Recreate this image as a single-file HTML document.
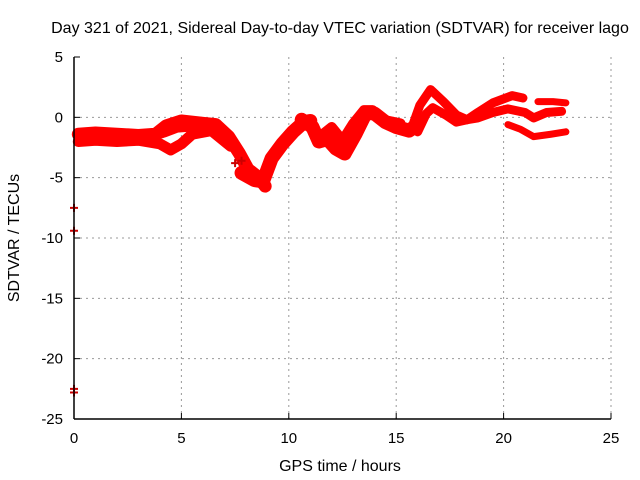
<!DOCTYPE html>
<html><head><meta charset="utf-8"><style>
html,body{margin:0;padding:0;background:#fff}
svg{display:block;font-family:"Liberation Sans",sans-serif}
</style></head><body>
<svg id="chart" width="640" height="480" viewBox="0 0 640 480">
<text x="340" y="33" font-size="16" text-anchor="middle">Day 321 of 2021, Sidereal Day-to-day VTEC variation (SDTVAR) for receiver lago</text>
<text x="340" y="471" font-size="16" text-anchor="middle">GPS time / hours</text>
<text transform="translate(19,238) rotate(-90)" font-size="16" text-anchor="middle">SDTVAR / TECUs</text>
<g id="grid"></g><g id="ticks"></g><g id="series"></g>
<line x1="74" y1="57" x2="74" y2="419" stroke="#000" stroke-width="1.5"/>
<line x1="74" y1="419" x2="611" y2="419" stroke="#000" stroke-width="1.5"/>
</svg>
<script>
const xTicks=[0,5,10,15,20,25];
const yTicks=[5,0,-5,-10,-15,-20,-25];
const trackA=[[0.2,-1.4],[1,-1.3],[2,-1.4],[3,-1.5],[3.8,-1.4],[4.3,-0.7],[5,-0.3],[6,-0.5],[6.6,-0.6],[7.2,-1.6],[7.7,-3],[8.1,-4.3],[8.6,-5],[8.9,-5.7]];
const trackB=[[0.2,-2],[1,-1.9],[2,-2],[3,-1.9],[4,-2.2],[4.5,-2.7],[5,-2.2],[5.5,-1.4],[6.4,-1.1],[7.3,-2.4]];
const trackC=[[3.5,-1.7],[4.2,-1.3],[4.8,-0.9],[5.5,-0.8],[6.2,-0.6],[6.9,-1.2]];
const trackD=[[7.8,-4.6],[8.4,-5.2],[8.8,-5.3],[9.2,-3.4],[9.7,-2.2],[10.2,-1.2],[10.7,-0.4],[11,-0.3]];
const trackE=[[10.6,-0.2],[11.1,-0.8],[11.4,-2],[11.8,-1.8],[12.2,-2.6],[12.6,-3],[13.1,-1.4],[13.6,0.4],[14,0.3],[14.5,-0.4],[15,-0.8],[15.6,-1.1],[16,-0.6]];
const trackF=[[11.5,-1.5],[12,-0.8],[12.5,-1.9],[13,-0.5],[13.5,0.6],[13.9,0.6],[14.4,-0.2],[15.2,-0.5]];
const trackG=[[15.8,-0.5],[16.1,1],[16.6,2.3],[17.2,1.3],[17.8,0.2],[18.3,-0.2],[18.8,0.4],[19.5,1.2],[20.4,1.8],[20.9,1.6]];
const trackH=[[16,-1.2],[16.4,0.3],[16.7,0.8],[17.3,0.2],[17.8,-0.4],[18.3,-0.2],[18.8,-0.05],[19.5,0.4],[20.2,0.7],[21,0.4],[21.4,-0.05],[22,0.4],[22.7,0.5]];
const trackI=[[21.6,1.3],[22.3,1.3],[22.9,1.2]];
const trackJ=[[20.2,-0.6],[20.8,-1],[21.4,-1.6],[22.2,-1.4],[22.9,-1.2]];
const outliers=[[0,-7.5],[0,-9.4],[0,-22.5],[0,-22.8],[7.5,-3.8],[7.8,-3.6]];
const tracks=[[trackA,13],[trackB,11],[trackC,9],[trackD,14],[trackE,14],[trackF,10],[trackG,9],[trackH,9],[trackI,7],[trackJ,7]];
const X=v=>74+v*(537/25), Y=v=>57+(5-v)*(362/30);
const NS="http://www.w3.org/2000/svg";
const grid=document.getElementById('grid'),ticks=document.getElementById('ticks'),ser=document.getElementById('series');
function mk(tag,attrs,parent){const e=document.createElementNS(NS,tag);for(const k in attrs)e.setAttribute(k,attrs[k]);parent.appendChild(e);return e;}
xTicks.forEach(t=>{
  if(t>0){const g=mk('line',{x1:X(t),x2:X(t),y1:57,y2:419,stroke:'#999','stroke-dasharray':'2,4'},grid);
  
  }
  const tk=mk('line',{x1:X(t),x2:X(t),y1:419,y2:413,stroke:'#000'},ticks);
  
  
  const l=mk('text',{x:X(t),y:443,'font-size':15,'text-anchor':'middle'},ticks);l.textContent=t;
  
  
});
yTicks.forEach(t=>{
  if(t<5&&t>-25){const g=mk('line',{x1:74,x2:611,y1:Y(t),y2:Y(t),stroke:'#999','stroke-dasharray':'2,4'},grid);
  
  }
  const tk=mk('line',{x1:74,x2:80,y1:Y(t),y2:Y(t),stroke:'#000'},ticks);
  
  
  const l=mk('text',{x:63,y:Y(t)+5,'font-size':15,'text-anchor':'end'},ticks);l.textContent=t;
  
  
});
tracks.forEach(([d,w])=>{
  const p=mk('polyline',{points:d.map(q=>X(q[0])+','+Y(q[1])).join(' '),fill:'none',stroke:'#f00','stroke-width':w,'stroke-linejoin':'round','stroke-linecap':'round'},ser);
  
  
});
outliers.forEach(q=>{
  const p=mk('path',{d:`M${X(q[0])-4},${Y(q[1])}h8M${X(q[0])},${Y(q[1])-4}v8`,stroke:'#c00','stroke-width':2},ser);
  
  
});
</script>
</body></html>
